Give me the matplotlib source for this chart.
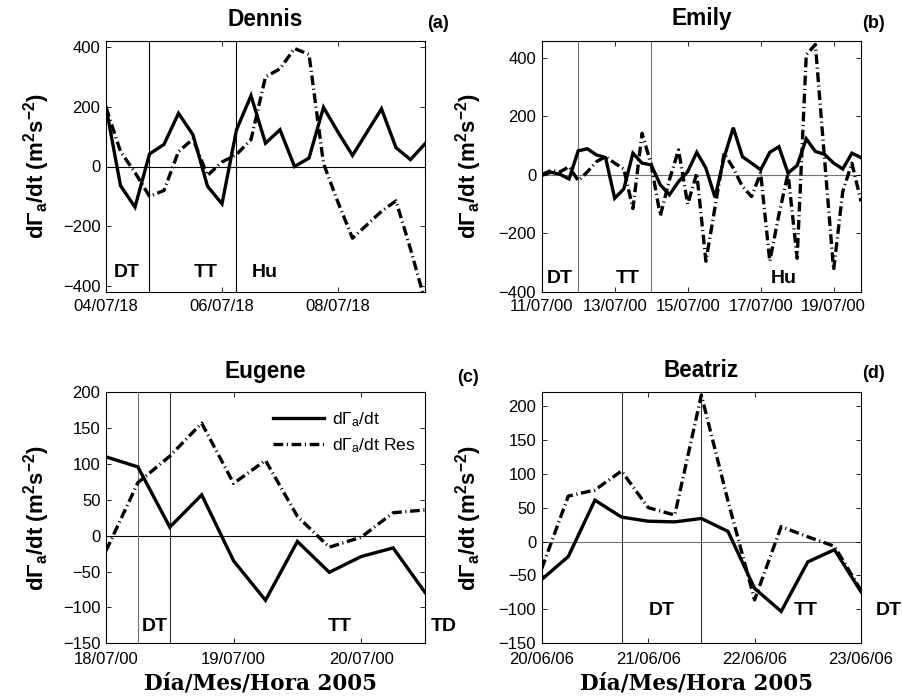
import numpy as np
import matplotlib
matplotlib.use("Agg")
import matplotlib.pyplot as plt

plt.rcParams["font.family"] = ["Liberation Sans", "DejaVu Sans"]
plt.rcParams["mathtext.fontset"] = "custom"
plt.rcParams["mathtext.rm"] = "Liberation Sans"
plt.rcParams["mathtext.it"] = "Liberation Sans"
plt.rcParams["mathtext.bf"] = "Liberation Sans:bold"
plt.rcParams["lines.scale_dashes"] = False

STEP = 0.25  # days between samples (6-hourly)

# ---- Dennis ----
dennis_dgdt = [198, -64, -136, 42, 74, 178, 106, -66, -125, 123, 237, 78,
               123, 0, 28, 198, 115, 37, 115, 193, 63, 23, 76]
dennis_res = [198, 50, -20, -100, -80, 50, 92, -30, 15, 40, 90, 300,
              327, 395, 375, 10, -120, -240, -195, -150, -115, -276, -450]
dennis_phases = [0.75, 2.25]
dennis_ticks = [0, 2, 4]
dennis_ticklabels = ["04/07/18", "06/07/18", "08/07/18"]

# ---- Emily ----
emily_dgdt = [-2, 9, 2, -14, 82, 89, 68, 59, -80, -48, 74, 40, 34, -34, -68,
              -23, 11, 77, 23, -77, 60, 161, 62, 40, 17, 77, 96, 6, 32, 123,
              80, 70, 40, 20, 74, 59]
emily_res = [0, 15, 10, 28, -20, 10, 45, 62, 40, 20, -115, 142, 35, -140, -17,
             85, -100, 5, -295, -110, 74, 23, -40, -74, 6, -295, -136, 5, -285,
             410, 445, 55, -325, -57, 40, -90]
emily_phases = [1.0, 3.0]
emily_ticks = [0, 2, 4, 6, 8]
emily_ticklabels = ["11/07/00", "13/07/00", "15/07/00", "17/07/00", "19/07/00"]

# ---- Eugene ----
eugene_dgdt = [110, 96, 12, 57, -35, -90, -8, -51, -29, -17, -79]
eugene_res = [-21, 74, 111, 157, 73, 105, 27, -16, -2, 32, 36]
eugene_phases = [0.25, 0.5]
eugene_ticks = [0, 1, 2]
eugene_ticklabels = ["18/07/00", "19/07/00", "20/07/00"]

# ---- Beatriz ----
beatriz_dgdt = [-56, -22, 61, 36, 30, 29, 34, 15, -69, -103, -30, -12, -74]
beatriz_res = [-40, 67, 76, 104, 50, 39, 216, 60, -86, 22, 7, -7, -72]
beatriz_phases = [0.75, 1.5]
beatriz_ticks = [0, 1, 2, 3]
beatriz_ticklabels = ["20/06/06", "21/06/06", "22/06/06", "23/06/06"]

W, H = 903, 698
fig = plt.figure(figsize=(W / 100, H / 100), dpi=100)


def px_axes(left, top, right, bottom):
    return fig.add_axes([left / W, 1 - bottom / H, (right - left) / W, (bottom - top) / H])


def fig_text(x, y, s, **kw):
    fig.text(x / W, 1 - y / H, s, **kw)


DASHDOT = (0, (7, 2.6, 0.8, 2.6))
YLABEL = r"$\mathbf{d\Gamma_a/dt\ (m^2s^{-2})}$"
XLABEL = "Día/Mes/Hora 2005"


def draw_panel(ax, dgdt, res, phases, ticks, ticklabels, xlim, ylim, yticks,
               guide_colors, zero_color, xpad=5):
    x = np.arange(len(dgdt)) * STEP
    ax.axhline(0, color=zero_color, lw=0.8, zorder=1)
    for p, c in zip(phases, guide_colors):
        ax.axvline(p, color=c, lw=0.8, zorder=1)
    l1, = ax.plot(x, dgdt, color="k", lw=2.4, solid_joinstyle="miter", zorder=3)
    l2, = ax.plot(x, res, color="k", lw=2.4, linestyle=DASHDOT, zorder=2)
    ax.set_xlim(*xlim)
    ax.set_ylim(*ylim)
    ax.set_xticks(ticks)
    ax.set_xticklabels(ticklabels)
    ax.set_yticks(yticks)
    ax.tick_params(direction="in", top=True, right=True, length=3.5, width=0.6,
                   labelsize=12)
    ax.tick_params(axis="x", pad=xpad)
    ax.tick_params(axis="y", pad=4)
    for sp in ax.spines.values():
        sp.set_linewidth(0.8)
    return l1, l2


# (a) Dennis
axa = px_axes(106, 41, 425, 292)
draw_panel(axa, dennis_dgdt, dennis_res, dennis_phases, dennis_ticks,
           dennis_ticklabels, (0, 5.5), (-420, 420), [-400, -200, 0, 200, 400],
           ["k", "k"], "k")
for s, xd in [("DT", 0.358), ("TT", 1.727), ("Hu", 2.742)]:
    axa.text(xd, -354, s, fontsize=14, fontweight="bold", ha="center", va="center")

# (b) Emily
axb = px_axes(541.7, 41, 861, 292)
draw_panel(axb, emily_dgdt, emily_res, emily_phases, emily_ticks,
           emily_ticklabels, (0, 8.75), (-400, 457), [-400, -200, 0, 200, 400],
           ["0.45", "0.45"], "0.45")
for s, xd in [("DT", 0.5), ("TT", 2.35), ("Hu", 6.62)]:
    axb.text(xd, -353, s, fontsize=14, fontweight="bold", ha="center", va="center")

# (c) Eugene
axc = px_axes(106, 392.3, 425, 643.3)
h1, h2 = draw_panel(axc, eugene_dgdt, eugene_res, eugene_phases, eugene_ticks,
                    eugene_ticklabels, (0, 2.5), (-150, 200),
                    [-150, -100, -50, 0, 50, 100, 150, 200], ["0.45", "0.2"], "k",
                    xpad=6.3)
for s, xd in [("DT", 0.383), ("TT", 1.834), ("TD", 2.648)]:
    axc.text(xd, -126, s, fontsize=14, fontweight="bold", ha="center", va="center")
fig.legend([h1, h2], [r"d$\Gamma_a$/dt", r"d$\Gamma_a$/dt Res"],
           loc="upper left", bbox_to_anchor=(273 / W, 1 - 410 / H),
           bbox_transform=fig.transFigure, frameon=False, fontsize=12.6,
           handlelength=2.9, handletextpad=0.45, borderpad=0, borderaxespad=0,
           labelspacing=0.45)

# (d) Beatriz
axd = px_axes(541.7, 392.3, 861, 643.3)
draw_panel(axd, beatriz_dgdt, beatriz_res, beatriz_phases, beatriz_ticks,
           beatriz_ticklabels, (0, 3), (-150, 220),
           [-150, -100, -50, 0, 50, 100, 150, 200], ["0.2", "0.2"], "0.45",
           xpad=6.3)
for s, xd in [("DT", 1.128), ("TT", 2.482), ("DT", 3.257)]:
    axd.text(xd, -101.5, s, fontsize=14, fontweight="bold", ha="center", va="center")

# Titles and panel tags
for (x, y, s) in [(265.5, 19, "Dennis"), (701.4, 19, "Emily"),
                  (265.5, 371, "Eugene"), (701.4, 370, "Beatriz")]:
    fig_text(x, y, s, fontsize=16.3, fontweight="bold", ha="center", va="center")
for (x, y, s) in [(438.5, 24, "(a)"), (874, 24, "(b)"),
                  (468.5, 378, "(c)"), (874, 374, "(d)")]:
    fig_text(x, y, s, fontsize=13, fontweight="bold", ha="center", va="center")

# Y axis labels
for (x, y) in [(37, 166), (469, 166), (37, 518), (469, 518)]:
    fig_text(x, y, YLABEL, fontsize=16, rotation=90, ha="center", va="center")

# X axis labels
for x in (261, 696):
    fig_text(x, 683, XLABEL, fontsize=15.5, family="DejaVu Serif",
             fontweight="bold", ha="center", va="center")

fig.savefig("out.png", dpi=100)
